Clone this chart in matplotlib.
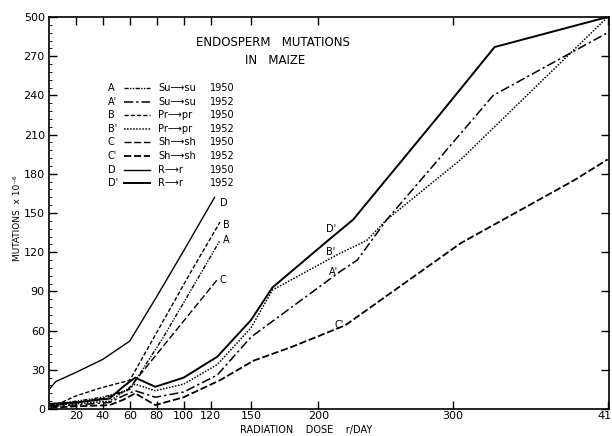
import numpy as np
import matplotlib
matplotlib.use("Agg")
from matplotlib import pyplot as plt

# dose (r/day) and mutation rates, 1950 plantings (stop near 125 r/day)
dose_A = [1, 20, 40, 60, 85, 114, 127]
rate_A = [3, 6, 9, 15, 55, 106, 129]
dose_B = [1, 5, 20, 38, 60, 106, 127]
rate_B = [2, 3, 10, 16, 22, 106, 143]
dose_C = [1, 20, 40, 58, 125]
rate_C = [2, 5, 8, 14, 99]
dose_D = [1, 5, 20, 40, 60, 80, 100, 123]
rate_D = [16, 21, 28, 38, 52, 86, 121, 162]

# 1952 plantings, full range of the field
dose_A2 = [1, 20, 45, 55, 64, 79, 100, 125, 150, 216, 229, 251, 291, 330, 415]
rate_A2 = [2, 3, 5, 10, 14, 9, 13, 26, 55, 105, 114, 145, 193, 240, 288]
dose_B2 = [1, 20, 45, 55, 64, 79, 100, 125, 150, 166, 214, 236, 251, 306, 415]
rate_B2 = [3, 4, 6, 13, 19, 14, 19, 34, 62, 91, 118, 129, 145, 191, 300]
dose_C2 = [1, 20, 45, 55, 64, 79, 100, 127, 152, 179, 220, 306, 390, 415]
rate_C2 = [1, 2, 3, 7, 12, 3, 9, 22, 37, 47, 64, 127, 175, 191]
dose_D2 = [1, 20, 45, 55, 64, 79, 100, 125, 150, 166, 205, 226, 290, 331, 415]
rate_D2 = [4, 5, 8, 17, 24, 17, 24, 40, 68, 93, 127, 145, 225, 277, 300]

x_ticks = [20, 40, 60, 80, 100, 120, 150, 200, 300, 415]
y_ticks = [0, 30, 60, 90, 120, 150, 180, 210, 240, 270, 300]
y_tick_labels = ["0", "30", "60", "90", "120", "150", "180", "210", "240", "270", "500"]

legend_keys = ["A", "A'", "B", "B'", "C", "C'", "D", "D'"]
legend_genes = ["Su", "Su", "Pr", "Pr", "Sh", "Sh", "R", "R"]
legend_recessive = ["su", "su", "pr", "pr", "sh", "sh", "r", "r"]
legend_years = ["1950", "1952", "1950", "1952", "1950", "1952", "1950", "1952"]

styles = {
    "A": dict(ls=(0, (3, 1, 1, 1, 1, 1)), lw=1.0),
    "A'": dict(ls=(0, (6, 2, 1.5, 2)), lw=1.1),
    "B": dict(ls=(0, (3, 1.5)), lw=1.0),
    "B'": dict(ls=(0, (1, 1)), lw=1.1),
    "C": dict(ls=(0, (5, 2)), lw=1.0),
    "C'": dict(ls=(0, (4, 1.5)), lw=1.3),
    "D": dict(ls="-", lw=1.0),
    "D'": dict(ls="-", lw=1.4),
}

W, H = 612, 436
fig = plt.figure(figsize=(W / 100, H / 100), dpi=100)
ax = fig.add_axes([49 / W, 1 - 409 / H, 560 / W, 392 / H])

series = [
    ("A", dose_A, rate_A), ("B", dose_B, rate_B),
    ("C", dose_C, rate_C), ("D", dose_D, rate_D),
    ("A'", dose_A2, rate_A2), ("B'", dose_B2, rate_B2),
    ("C'", dose_C2, rate_C2), ("D'", dose_D2, rate_D2),
]
for key, xs, ys in series:
    ax.plot(xs, ys, color="black", **styles[key])

# curve labels
for key, x, y in [("D", 127, 158), ("B", 129, 141), ("A", 129, 129), ("C", 127, 99),
                  ("D'", 206, 138), ("B'", 206, 120), ("A'", 208, 105), ("C'", 212, 64)]:
    ax.text(x, y, key, fontsize=7, ha="left", va="center")

ax.set_xlim(0, 416)
ax.set_ylim(0, 300)
ax.set_xticks(x_ticks)
ax.set_xticklabels([str(t) for t in x_ticks])
ax.set_yticks(y_ticks)
ax.set_yticklabels(y_tick_labels)
ax.set_yticks(np.arange(0, 300, 6), minor=True)
ax.tick_params(axis="both", which="major", direction="in", length=6, width=1.0,
               labelsize=8, top=True, right=True, pad=3)
ax.tick_params(axis="x", which="major", pad=1.5)
ax.tick_params(axis="y", which="minor", direction="in", length=2, width=0.6, left=True, right=False)
ax.tick_params(axis="x", which="minor", bottom=False, top=False)
for sp in ax.spines.values():
    sp.set_linewidth(1.2)

ax.set_xlabel("RADIATION    DOSE    r/DAY", fontsize=7, labelpad=1)
ax.xaxis.set_label_coords(257 / 560, -16 / 392)
fig.text(18 / W, 1 - 218 / H, "MUTATIONS  x 10⁻⁶", rotation=90, fontsize=6.5,
         ha="center", va="center")

# title
fig.text(273 / W, 1 - 43 / H, "ENDOSPERM   MUTATIONS", fontsize=8.5, ha="center", va="center")
fig.text(275 / W, 1 - 61 / H, "IN   MAIZE", fontsize=8.5, ha="center", va="center")

# key table
for i, key in enumerate(legend_keys):
    y = 1 - (88 + 13.6 * i) / H
    fig.text(108 / W, y, key, fontsize=7, ha="left", va="center")
    fig.add_artist(plt.Line2D([124 / W, 150 / W], [y, y], color="black",
                              transform=fig.transFigure, **styles[key]))
    fig.text(158 / W, y, legend_genes[i] + "⟶" + legend_recessive[i], fontsize=7,
             ha="left", va="center")
    fig.text(210 / W, y, legend_years[i], fontsize=7, ha="left", va="center")

fig.savefig("out.png", dpi=100)
